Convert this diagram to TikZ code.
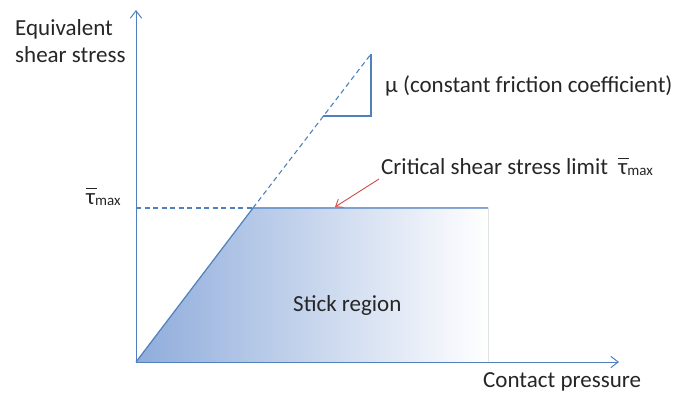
\documentclass[tikz,border=0pt]{standalone}
\usepackage{fontspec}
\setmainfont{Carlito}
\usetikzlibrary{arrows.meta}
\definecolor{cblue}{RGB}{79,129,189}
\definecolor{cfill}{RGB}{143,172,219}
\definecolor{cred}{RGB}{210,75,70}
\definecolor{ctext}{RGB}{38,38,38}
\newcommand{\taumax}{\makebox[0pt][l]{\raisebox{1.5ex}{\rule{0.45em}{0.9pt}}}τ\raisebox{-1pt}{\fontsize{15}{17}\selectfont max}}

\begin{document}
\begin{tikzpicture}[x=1pt,y=-1pt,font=\fontsize{23}{27}\selectfont,
  axis/.style={-{Straight Barb[length=2.6mm,width=4mm]},cblue,line width=1pt},
  limit/.style={cblue,line width=1.2pt},
  guide/.style={cblue,line width=1.1pt,dash pattern=on 5pt off 3.5pt},
  lbl/.style={anchor=base west,inner sep=0pt,text=ctext,align=left},
]
\useasboundingbox (0,0) rectangle (679,395);
\coordinate (O) at (136,362);
\coordinate (ytop) at (136,10);
\coordinate (xend) at (619,362);
\coordinate (knee) at (253,208);
\coordinate (tauleft) at (136,208);
\coordinate (tauright) at (488,208);
\coordinate (btmright) at (488,362);
\coordinate (slopetop) at (371,54);
\coordinate (slopecnr) at (371,116);
\coordinate (slopeleft) at (323,116);
\coordinate (crit) at (379,179);
\coordinate (ptr) at (335,207);
% stick region
\fill[left color=cfill,middle color=cfill!60,right color=white] (O) -- (knee) -- (tauright) -- (btmright) -- cycle;
\draw[guide] (tauleft) -- (knee);
\draw[guide] (knee) -- (slopetop);
\draw[limit] (O) -- (knee) -- (tauright);
\draw[limit] (slopetop) -- (slopecnr) -- (slopeleft);
% axes
\draw[axis] (O) -- (ytop);
\draw[axis] (O) -- (xend);
% labels
\node[lbl] (ylab) at (15,63) {Equivalent\\shear stress};
\node[lbl] (xlab) at (483,387) {Contact pressure};
\node[lbl] (taulab) at (86,205) {\taumax};
\node[lbl] (stick) at (293,311) {Stick region};
\node[lbl] (mulab) at (385,93) {μ (constant friction coefficient)};
\node[lbl] (critlab) at (381,175) {Critical shear stress limit~~\taumax};
\draw[-{Straight Barb[length=2.2mm,width=3.4mm]},cred,line width=0.9pt] (crit) -- (ptr);
\end{tikzpicture}
\end{document}
